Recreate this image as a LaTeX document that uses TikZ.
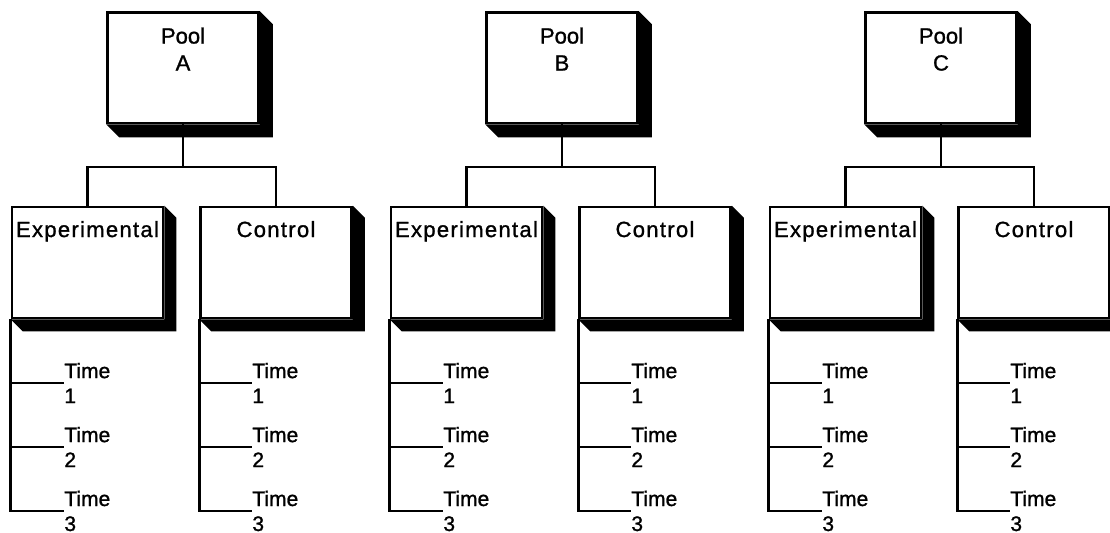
\documentclass[tikz,border=0pt]{standalone}
\usepackage{fontspec}
\setmainfont{Liberation Sans}[FakeBold=1.2]
\newfontfamily\boxfont{Liberation Sans}[LetterSpace=6, FakeBold=1.2]
\usetikzlibrary{positioning}

\begin{document}
\begin{tikzpicture}[x=0.5pt, y=-0.5pt,
		box/.style={draw, line width=1.3pt, fill=white, minimum width=75.5pt, inner sep=0pt},
		pool/.style={box, minimum height=55.25pt},
		group/.style={box, minimum height=55.5pt},
		pooltext/.style={font=\fontsize{11}{13.5}\selectfont, align=center, inner sep=0pt},
		boxtext/.style={font=\boxfont\fontsize{11}{13.5}\selectfont, align=center, inner sep=0pt},
		timetext/.style={font=\fontsize{10.5}{12.5}\selectfont, align=left, anchor=west, inner sep=0pt},
		edge/.style={line width=1.3pt}
	]
	\useasboundingbox (0,0) rectangle (1110,533);
	\foreach \g/\dx in {A/0, B/379, C/758} {
		\node[pool]  (pool\g) at (183+\dx, 67.75) {};
		\node[group] (exp\g)  at (87.5+\dx, 262.5) {};
		\node[group] (ctl\g)  at (276+\dx, 262.5) {};

		% extruded side of each box
		\foreach \n/\d in {pool\g/13, exp\g/12, ctl\g/12}
			\fill (\n.north east) -- ++(\d,\d) |- ([shift={(\d,\d)}]\n.south west)
				-- (\n.south west) -- (\n.south east) -- cycle;

		\node[pooltext] (poolt\g) [below=8pt of pool\g.north] {Pool\\\g};
		\node[boxtext] (expt\g)  [below=7.5pt of exp\g.north] {Experimental};
		\node[boxtext] (ctlt\g)  [below=7.5pt of ctl\g.north] {Control};

		\coordinate (j\g) at (183+\dx, 167);
		\draw[edge] (pool\g.south) -- (j\g) -| (exp\g.north);
		\draw[edge] (j\g) -| (ctl\g.north);

		\foreach \t/\ty in {1/383, 2/447, 3/511} {
			\node[timetext] (te\g\t) at (64+\dx, \ty)  {Time\\\t};
			\node[timetext] (tc\g\t) at (252+\dx, \ty) {Time\\\t};
		}
		\draw[edge] (exp\g.south west) |- (te\g3.west);
		\draw[edge] (exp\g.south west |- te\g1.west) -- (te\g1.west);
		\draw[edge] (exp\g.south west |- te\g2.west) -- (te\g2.west);
		\draw[edge] (ctl\g.south west) |- (tc\g3.west);
		\draw[edge] (ctl\g.south west |- tc\g1.west) -- (tc\g1.west);
		\draw[edge] (ctl\g.south west |- tc\g2.west) -- (tc\g2.west);
	}
\end{tikzpicture}
\end{document}
